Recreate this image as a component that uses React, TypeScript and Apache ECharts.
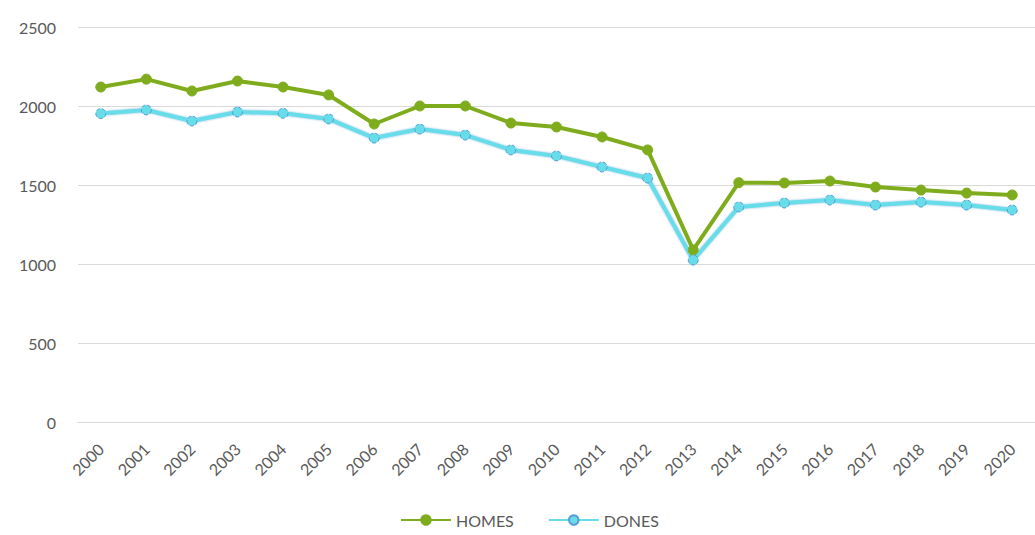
import React, { useEffect, useRef } from "react";
import * as echarts from "echarts";

const years = ["2000","2001","2002","2003","2004","2005","2006","2007","2008","2009","2010","2011","2012","2013","2014","2015","2016","2017","2018","2019","2020"];
const homes = [2120, 2170, 2095, 2158, 2120, 2070, 1886, 2000, 2000, 1892, 1867, 1804, 1722, 1089, 1515, 1513, 1525, 1487, 1468, 1449, 1437];
const dones = [1952, 1975, 1905, 1962, 1954, 1918, 1797, 1854, 1816, 1722, 1684, 1614, 1544, 1025, 1361, 1386, 1405, 1373, 1392, 1373, 1342];

export default function App() {
  const ref = useRef<HTMLDivElement>(null);
  useEffect(() => {
    if (!ref.current) return;
    const chart = echarts.init(ref.current, null, { renderer: "svg" });
    const font = "Lato, 'Open Sans', sans-serif";
    chart.setOption({
      animation: false,
      backgroundColor: "#ffffff",
      grid: { left: 78, top: 27, width: 967, height: 395, containLabel: false },
      legend: {
        bottom: 2,
        left: 395,
        itemWidth: 50,
        itemHeight: 12,
        itemGap: 34,
        textStyle: { color: "#595959", fontSize: 16, fontFamily: font },
        data: ["HOMES", "DONES"],
      },
      xAxis: {
        type: "category",
        data: years,
        boundaryGap: true,
        axisLine: { show: true, lineStyle: { color: "#d9d9d9", width: 1 } },
        axisTick: { show: false },
        axisLabel: { rotate: 45, color: "#595959", fontSize: 16, fontFamily: font, margin: 24, interval: 0 },
      },
      yAxis: {
        type: "value",
        min: 0,
        max: 2500,
        interval: 500,
        axisLine: { show: false },
        axisTick: { show: false },
        splitLine: { lineStyle: { color: "#d9d9d9", width: 1 } },
        axisLabel: { color: "#595959", fontSize: 16, fontFamily: font, margin: 22, formatter: (v: number) => String(v) },
      },
      series: [
        {
          name: "HOMES",
          type: "line",
          data: homes,
          symbol: "circle",
          symbolSize: 10,
          lineStyle: { color: "#7fac1c", width: 4 },
          itemStyle: { color: "#7fac1c", borderColor: "#7fac1c", borderWidth: 1 },
        },
        {
          name: "DONES",
          type: "line",
          data: dones,
          symbol: "circle",
          symbolSize: 10,
          lineStyle: { color: "#66dde8", width: 4, shadowColor: "rgba(91,155,213,0.7)", shadowBlur: 2 },
          itemStyle: { color: "#66dde8", borderColor: "#5b9bd5", borderWidth: 1, borderType: "dashed" },
        },
      ],
    });
    return () => chart.dispose();
  }, []);
  return <div ref={ref} style={{ position: "fixed", left: 0, top: 0, width: 1035, height: 535 }} />;
}
